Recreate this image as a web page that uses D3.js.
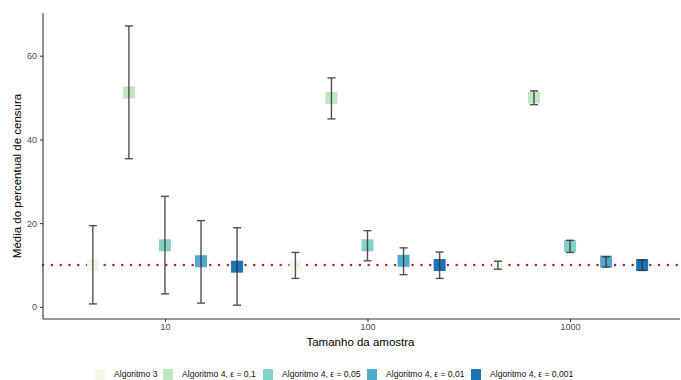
<!DOCTYPE html>
<html>
<head>
<meta charset="utf-8">
<script src="https://cdn.jsdelivr.net/npm/d3@7"></script>
<style>
  body { margin: 0; background: #fff; }
  svg text { font-family: "Liberation Sans", Arial, sans-serif; }
</style>
</head>
<body>
<div id="chart"></div>
<script>
// data
const sampleSizes = [10, 100, 1000];
const groups = ["Algoritmo 3", "Algoritmo 4, \u03b5 = 0,1", "Algoritmo 4, \u03b5 = 0,05", "Algoritmo 4, \u03b5 = 0,01", "Algoritmo 4, \u03b5 = 0,001"];
const colors = ["#f0f9e8", "#bae4bc", "#7bccc4", "#43a2ca", "#0868ac"];
// mean, lower, upper per group, one value per sample size
const means = [
  [10.0, 9.8, 9.8],
  [51.2, 49.9, 50.0],
  [14.7, 14.7, 14.5],
  [10.9, 11.0, 10.8],
  [9.6, 10.0, 10.0]
];
const lower = [
  [0.7, 6.8, 9.0],
  [35.4, 44.9, 48.3],
  [3.1, 11.0, 13.0],
  [0.9, 7.7, 9.5],
  [0.4, 6.8, 8.7]
];
const upper = [
  [19.4, 13.0, 10.9],
  [67.1, 54.7, 51.6],
  [26.4, 18.2, 15.9],
  [20.6, 14.1, 12.0],
  [18.9, 13.1, 11.2]
];
const refLine = 10;
const yTicks = [0, 20, 40, 60];
const xTicks = [10, 100, 1000];

const W = 681, H = 380;
const margin = { top: 13, right: 1, bottom: 61, left: 43 };
const width = W - margin.left - margin.right,
  height = H - margin.top - margin.bottom;

const svg = d3.select("#chart").append("svg")
  .attr("width", W).attr("height", H);
const g = svg.append("g")
  .attr("transform", "translate(" + margin.left + "," + margin.top + ")");

const x = d3.scaleLog().domain([2.5, 3490]).range([0, width]);
const y = d3.scaleLinear().domain([-2.9, 70.2]).range([height, 0]);

// dodge in log units
const dodge = 0.178;
function xPos(n, i) { return x(n * Math.pow(10, (i - 2) * dodge)); }

// reference line
g.append("line")
  .attr("x1", 0).attr("x2", width)
  .attr("y1", y(refLine)).attr("y2", y(refLine))
  .attr("stroke", "#b22222")
  .attr("stroke-width", 2.4)
  .attr("stroke-linecap", "round")
  .attr("stroke-dasharray", "0.1 8.7");

// build rows
let rows = [];
groups.forEach(function (gr, i) {
  sampleSizes.forEach(function (n, j) {
    rows.push({ i: i, n: n, mean: means[i][j], lo: lower[i][j], hi: upper[i][j] });
  });
});

// points (squares)
const sq = 12;
g.selectAll("rect.pt")
  .data(rows)
  .enter()
  .append("rect")
  .attr("class", "pt")
  .attr("x", function (d) { return xPos(d.n, d.i) - sq / 2; })
  .attr("y", function (d) { return y(d.mean) - sq / 2; })
  .attr("width", sq).attr("height", sq)
  .attr("fill", function (d) { return colors[d.i]; })
  .attr("opacity", 0.92);

// error bars
const eb = g.selectAll("g.eb")
  .data(rows)
  .enter()
  .append("g")
  .attr("class", "eb")
  .attr("stroke", "#333")
  .attr("stroke-width", 1.4)
  .attr("opacity", 0.85);
eb.append("line")
  .attr("x1", function (d) { return xPos(d.n, d.i); })
  .attr("x2", function (d) { return xPos(d.n, d.i); })
  .attr("y1", function (d) { return y(d.lo); })
  .attr("y2", function (d) { return y(d.hi); });
[["lo"], ["hi"]].forEach(function (k) {
  eb.append("line")
    .attr("x1", function (d) { return xPos(d.n, d.i) - 4; })
    .attr("x2", function (d) { return xPos(d.n, d.i) + 4; })
    .attr("y1", function (d) { return y(d[k[0]]); })
    .attr("y2", function (d) { return y(d[k[0]]); });
});

// axes
const yAxis = g.append("g")
  .call(d3.axisLeft(y).tickValues(yTicks).tickSize(3).tickPadding(3));
const xAxis = g.append("g")
  .attr("transform", "translate(0," + height + ")")
  .call(d3.axisBottom(x).tickValues(xTicks).tickFormat(d3.format("d")).tickSize(3).tickPadding(2));
[xAxis, yAxis].forEach(function (a) {
  a.select(".domain").attr("stroke", "#333").attr("stroke-width", 1.1);
  a.selectAll(".tick line").attr("stroke", "#333");
  a.selectAll(".tick text").attr("fill", "#4d4d4d").style("font-size", "9px");
});
yAxis.select(".domain").attr("d", "M0," + height + "V0");
xAxis.select(".domain").attr("d", "M0,0H" + width);

// axis titles
svg.append("text")
  .attr("x", margin.left + width / 2 - 1)
  .attr("y", 346)
  .attr("text-anchor", "middle")
  .style("font-size", "11.5px")
  .attr("fill", "#000")
  .text("Tamanho da amostra");
svg.append("text")
  .attr("transform", "translate(21," + (margin.top + height / 2 + 10) + ") rotate(-90)")
  .attr("text-anchor", "middle")
  .style("font-size", "11.5px")
  .attr("fill", "#000")
  .text("Média do percentual de censura");

// legend
const legX = [95, 163, 263, 367, 471];
const leg = svg.selectAll("g.leg")
  .data(groups)
  .enter()
  .append("g")
  .attr("class", "leg")
  .attr("transform", function (d, i) { return "translate(" + legX[i] + ",369)"; });
leg.append("rect")
  .attr("width", 10).attr("height", 12)
  .attr("fill", function (d, i) { return colors[i]; })
  .attr("opacity", 0.92);
leg.append("text")
  .attr("x", 19).attr("y", 8)
  .style("font-size", "8.6px")
  .attr("fill", "#111")
  .text(function (d) { return d; });
</script>
</body>
</html>
